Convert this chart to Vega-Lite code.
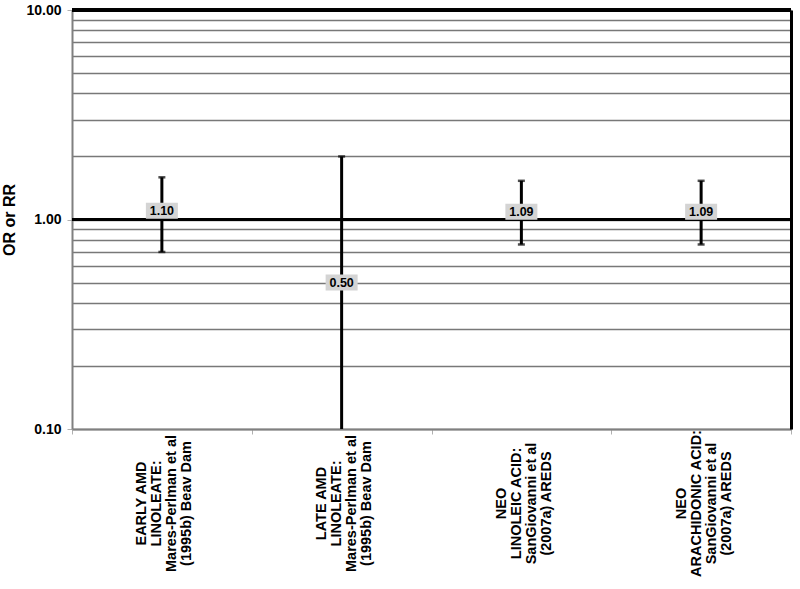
{
  "$schema": "https://vega.github.io/schema/vega-lite/v6.json",
  "autosize": "none",
  "width": 719,
  "height": 419,
  "padding": {"left": 72, "top": 10, "right": 9, "bottom": 160},
  "background": "white",
  "config": {
    "view": {"stroke": null},
    "font": "Liberation Sans",
    "axis": {"labelFont": "Liberation Sans", "titleFont": "Liberation Sans"}
  },
  "data": {
    "values": [
      {"study": "EARLY AMD|LINOLEATE:|Mares-Perlman et al|(1995b) Beav Dam", "est": 1.10, "lo": 0.70, "hi": 1.59},
      {"study": "LATE AMD|LINOLEATE:|Mares-Perlman et al|(1995b) Beav Dam", "est": 0.50, "lo": 0.10, "hi": 2.00},
      {"study": "NEO|LINOLEIC ACID:|SanGiovanni et al|(2007a) AREDS", "est": 1.09, "lo": 0.76, "hi": 1.53},
      {"study": "NEO|ARACHIDONIC ACID:|SanGiovanni et al|(2007a) AREDS", "est": 1.09, "lo": 0.76, "hi": 1.53}
    ]
  },
  "resolve": {"axis": {"y": "independent"}},
  "layer": [
    {
      "mark": {"type": "rule", "color": "black", "strokeWidth": 3},
      "encoding": {
        "x": {
          "field": "study", "type": "nominal", "sort": null,
          "scale": {"paddingInner": 0, "paddingOuter": 0},
          "axis": {
            "title": null,
            "labelExpr": "split(datum.label, '|')",
            "labelAngle": -90,
            "labelAlign": "center",
            "labelBaseline": "middle",
            "labelFontSize": 14.5,
            "labelFontWeight": "bold",
            "labelColor": "black",
            "labelLineHeight": 15,
            "labelLimit": 400,
            "labelPadding": 69,
            "labelOffset": -20,
            "tickBand": "extent",
            "tickColor": "#b0b0b0",
            "tickSize": 5,
            "domainColor": "#808080",
            "domainWidth": 2,
            "grid": false,
            "encode": {
              "labels": {
                "update": {
                  "dx": {"signal": "indexof(datum.value, 'LINOLEIC ACID') >= 0 ? 8 : (indexof(datum.value, 'ARACHIDONIC') >= 0 ? -5 : 0)"}
                }
              }
            }
          }
        },
        "y": {
          "field": "hi", "type": "quantitative",
          "scale": {"type": "log", "domain": [0.1, 10], "nice": false},
          "axis": {
            "title": "OR or RR",
            "titleFontSize": 16,
            "titleFontWeight": "bold",
            "titleColor": "black",
            "titlePadding": 8,
            "values": [0.1, 0.2, 0.3, 0.4, 0.5, 0.6, 0.7, 0.8, 0.9, 1, 2, 3, 4, 5, 6, 7, 8, 9, 10],
            "labelExpr": "(abs(datum.value - 0.1) < 1e-6 || abs(datum.value - 1) < 1e-6 || abs(datum.value - 10) < 1e-6) ? format(datum.value, '.2f') : ''",
            "labelFontSize": 14,
            "labelFontWeight": "bold",
            "labelColor": "black",
            "labelPadding": 6,
            "tickSize": 5,
            "tickColor": "#b0b0b0",
            "tickOpacity": {"condition": {"test": "abs(datum.value - 0.1) < 1e-6 || abs(datum.value - 1) < 1e-6 || abs(datum.value - 10) < 1e-6", "value": 1}, "value": 0},
            "domainColor": "#808080",
            "domainWidth": 2,
            "grid": true,
            "gridColor": "#787878",
            "gridWidth": 1.5
          }
        },
        "y2": {"field": "lo"}
      }
    },
    {
      "mark": {"type": "rule", "color": "black", "strokeWidth": 3},
      "encoding": {
        "y": {"datum": 1, "type": "quantitative", "axis": null}
      }
    },
    {
      "mark": {"type": "rule", "color": "black", "strokeWidth": 3.5},
      "encoding": {
        "y": {"datum": 10, "type": "quantitative",
          "axis": {"orient": "right", "title": null, "labels": false, "ticks": false, "grid": false, "domainColor": "black", "domainWidth": 3}
        }
      }
    },
    {
      "mark": {"type": "tick", "color": "black", "size": 7, "thickness": 2.5},
      "encoding": {
        "x": {"field": "study", "type": "nominal", "sort": null},
        "y": {"field": "hi", "type": "quantitative", "axis": null}
      }
    },
    {
      "transform": [{"filter": "datum.lo > 0.1"}],
      "mark": {"type": "tick", "color": "black", "size": 7, "thickness": 2.5},
      "encoding": {
        "x": {"field": "study", "type": "nominal", "sort": null},
        "y": {"field": "lo", "type": "quantitative", "axis": null}
      }
    },
    {
      "mark": {"type": "point", "shape": "M-1,-0.5H1V0.5H-1Z", "filled": true, "color": "#d4d4d4", "opacity": 1, "size": 1024},
      "encoding": {
        "x": {"field": "study", "type": "nominal", "sort": null},
        "y": {"field": "est", "type": "quantitative", "axis": null}
      }
    },
    {
      "mark": {"type": "text", "font": "Liberation Sans", "fontSize": 12.5, "fontWeight": "bold", "color": "black", "align": "center", "baseline": "middle"},
      "encoding": {
        "x": {"field": "study", "type": "nominal", "sort": null},
        "y": {"field": "est", "type": "quantitative", "axis": null},
        "text": {"field": "est", "type": "quantitative", "format": ".2f"}
      }
    }
  ]
}
